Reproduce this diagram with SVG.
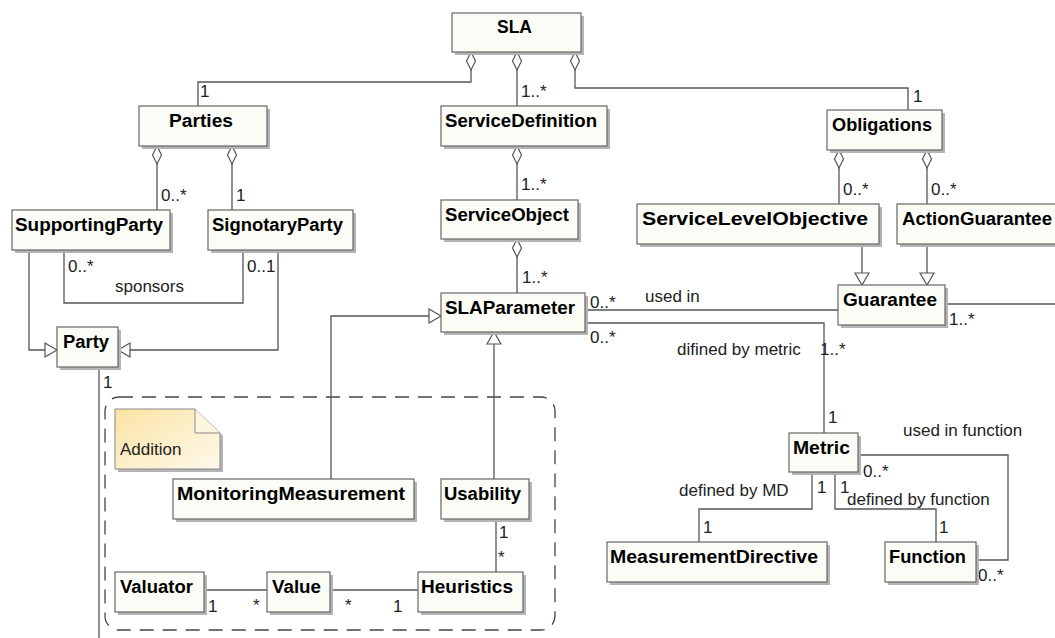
<svg xmlns="http://www.w3.org/2000/svg" width="1055" height="638" viewBox="0 0 1055 638">
<style>
.box{fill:#fcfcf7;stroke:#666;stroke-width:1.2}
.sh{fill:#b4b4b4}
.name{font-family:"Liberation Sans",Arial,sans-serif;font-weight:bold;font-size:18px;fill:#000;text-anchor:middle}
.lbl{font-family:"Liberation Sans",Arial,sans-serif;font-size:17px;fill:#222}
.ln{fill:none;stroke:#555;stroke-width:1.3}
.agg{marker-start:url(#dia)}
.gen{marker-end:url(#tri)}
</style>
<defs>
<marker id="dia" markerUnits="userSpaceOnUse" orient="auto" refX="0" refY="0" markerWidth="20" markerHeight="10" style="overflow:visible">
<path d="M0,0 L9,-4.5 L18,0 L9,4.5 Z" fill="#fff" stroke="#555" stroke-width="1.2"/>
</marker>
<marker id="tri" markerUnits="userSpaceOnUse" orient="auto" refX="0" refY="0" markerWidth="14" markerHeight="14" style="overflow:visible">
<path d="M-12,-7 L0,0 L-12,7 Z" fill="#fff" stroke="#555" stroke-width="1.2"/>
</marker>
<linearGradient id="noteg" x1="0" y1="0" x2="1" y2="1">
<stop offset="0" stop-color="#fbe3a3"/>
<stop offset="1" stop-color="#fdf9ec"/>
</linearGradient>
</defs>
<rect width="1055" height="638" fill="#fff"/>

<g id="frame">
<rect x="105" y="397" width="450" height="233" rx="14" fill="none" stroke="#444" stroke-width="1.3" stroke-dasharray="14 9"/>
</g>

<g id="connectors">
<path class="ln agg" d="M471,52 V82 H198 V106"/>
<path class="ln agg" d="M517,52 V106"/>
<path class="ln agg" d="M575,52 V88 H908 V110"/>
<path class="ln agg" d="M157,146 V210"/>
<path class="ln agg" d="M232,146 V210"/>
<path class="ln agg" d="M517,146 V200"/>
<path class="ln agg" d="M517,239 V293"/>
<path class="ln agg" d="M839,150 V204"/>
<path class="ln agg" d="M927,150 V204"/>
<path class="ln gen" d="M862,244 V285"/>
<path class="ln gen" d="M927,244 V285"/>
<path class="ln" d="M64,250 V303 H243 V250"/>
<path class="ln gen" d="M29,250 V350 H57"/>
<path class="ln gen" d="M278,250 V350 H118"/>
<path class="ln" d="M99,367 V638"/>
<path class="ln gen" d="M331,479 V316 H441"/>
<path class="ln gen" d="M494,479 V332"/>
<path class="ln" d="M585,310 H838"/>
<path class="ln" d="M945,304 H1055"/>
<path class="ln" d="M585,323 H824 V433"/>
<path class="ln" d="M858,455 H1008 V560 H976"/>
<path class="ln" d="M812,472 V509 H699 V542"/>
<path class="ln" d="M835,472 V509 H936 V542"/>
<path class="ln" d="M496,519 V572"/>
<path class="ln" d="M330,590 H418"/>
<path class="ln" d="M204,590 H267"/>
</g>

<g id="labels">
<text class="lbl" x="200" y="97">1</text>
<text class="lbl" x="521" y="97">1..*</text>
<text class="lbl" x="913" y="102">1</text>
<text class="lbl" x="161" y="201">0..*</text>
<text class="lbl" x="236" y="201">1</text>
<text class="lbl" x="521" y="190">1..*</text>
<text class="lbl" x="843" y="195">0..*</text>
<text class="lbl" x="931" y="195">0..*</text>
<text class="lbl" x="68" y="272">0..*</text>
<text class="lbl" x="247" y="272">0..1</text>
<text class="lbl" x="115" y="292">sponsors</text>
<text class="lbl" x="103" y="388">1</text>
<text class="lbl" x="522" y="283">1..*</text>
<text class="lbl" x="590" y="308">0..*</text>
<text class="lbl" x="645" y="302">used in</text>
<text class="lbl" x="590" y="343">0..*</text>
<text class="lbl" x="677" y="355">difined by metric</text>
<text class="lbl" x="820" y="355">1..*</text>
<text class="lbl" x="949" y="325">1..*</text>
<text class="lbl" x="828" y="423">1</text>
<text class="lbl" x="903" y="436">used in function</text>
<text class="lbl" x="863" y="477">0..*</text>
<text class="lbl" x="679" y="496">defined by MD</text>
<text class="lbl" x="817" y="493">1</text>
<text class="lbl" x="840" y="493">1</text>
<text class="lbl" x="847" y="505">defined by function</text>
<text class="lbl" x="703" y="533">1</text>
<text class="lbl" x="939" y="533">1</text>
<text class="lbl" x="978" y="581">0..*</text>
<text class="lbl" x="499" y="538">1</text>
<text class="lbl" x="498" y="563">*</text>
<text class="lbl" x="345" y="611">*</text>
<text class="lbl" x="393" y="612">1</text>
<text class="lbl" x="208" y="612">1</text>
<text class="lbl" x="253" y="611">*</text>
</g>

<g id="note-addition">
<polygon class="sh" points="118,412 198,412 223,436 223,472 118,472"/>
<polygon points="115,409 195,409 220,433 220,469 115,469" fill="url(#noteg)" stroke="#888" stroke-width="1"/>
<polyline points="195,409 195,433 220,433" fill="#fdf6df" stroke="#888" stroke-width="1"/>
<text class="lbl" x="120" y="455" fill="#333">Addition</text>
</g>

<g id="SLA"><rect class="sh" x="455" y="16" width="129" height="39"/><rect class="box" x="452" y="13" width="129" height="39"/><text class="name" x="514.5" y="33" textLength="35" lengthAdjust="spacingAndGlyphs">SLA</text></g>
<g id="Parties"><rect class="sh" x="142" y="109" width="128" height="40"/><rect class="box" x="139" y="106" width="128" height="40"/><text class="name" x="201" y="127" textLength="64" lengthAdjust="spacingAndGlyphs">Parties</text></g>
<g id="ServiceDefinition"><rect class="sh" x="444" y="109" width="166" height="40"/><rect class="box" x="441" y="106" width="166" height="40"/><text class="name" x="521" y="127" textLength="152" lengthAdjust="spacingAndGlyphs">ServiceDefinition</text></g>
<g id="Obligations"><rect class="sh" x="830" y="113" width="115" height="40"/><rect class="box" x="827" y="110" width="115" height="40"/><text class="name" x="882" y="131" textLength="100" lengthAdjust="spacingAndGlyphs">Obligations</text></g>
<g id="SupportingParty"><rect class="sh" x="15" y="213" width="158" height="40"/><rect class="box" x="12" y="210" width="158" height="40"/><text class="name" x="89" y="231" textLength="148" lengthAdjust="spacingAndGlyphs">SupportingParty</text></g>
<g id="SignotaryParty"><rect class="sh" x="211" y="213" width="145" height="40"/><rect class="box" x="208" y="210" width="145" height="40"/><text class="name" x="277.5" y="231" textLength="131" lengthAdjust="spacingAndGlyphs">SignotaryParty</text></g>
<g id="ServiceObject"><rect class="sh" x="444" y="203" width="137" height="39"/><rect class="box" x="441" y="200" width="137" height="39"/><text class="name" x="507" y="221" textLength="124" lengthAdjust="spacingAndGlyphs">ServiceObject</text></g>
<g id="ServiceLevelObjective"><rect class="sh" x="640" y="207" width="242" height="40"/><rect class="box" x="637" y="204" width="242" height="40"/><text class="name" x="755" y="225" textLength="226" lengthAdjust="spacingAndGlyphs">ServiceLevelObjective</text></g>
<g id="ActionGuarantee"><rect class="sh" x="900" y="207" width="170" height="40"/><rect class="box" x="897" y="204" width="170" height="40"/><text class="name" x="977" y="225" textLength="150" lengthAdjust="spacingAndGlyphs">ActionGuarantee</text></g>
<g id="Party"><rect class="sh" x="60" y="330" width="61" height="40"/><rect class="box" x="57" y="327" width="61" height="40"/><text class="name" x="86" y="348" textLength="46" lengthAdjust="spacingAndGlyphs">Party</text></g>
<g id="SLAParameter"><rect class="sh" x="444" y="296" width="144" height="39"/><rect class="box" x="441" y="293" width="144" height="39"/><text class="name" x="510" y="314" textLength="130" lengthAdjust="spacingAndGlyphs">SLAParameter</text></g>
<g id="Guarantee"><rect class="sh" x="841" y="288" width="107" height="40"/><rect class="box" x="838" y="285" width="107" height="40"/><text class="name" x="890" y="306" textLength="94" lengthAdjust="spacingAndGlyphs">Guarantee</text></g>
<g id="Metric"><rect class="sh" x="792" y="436" width="69" height="39"/><rect class="box" x="789" y="433" width="69" height="39"/><text class="name" x="821.5" y="454" textLength="57" lengthAdjust="spacingAndGlyphs">Metric</text></g>
<g id="MonitoringMeasurement"><rect class="sh" x="176" y="482" width="241" height="40"/><rect class="box" x="173" y="479" width="241" height="40"/><text class="name" x="291" y="500" textLength="228" lengthAdjust="spacingAndGlyphs">MonitoringMeasurement</text></g>
<g id="Usability"><rect class="sh" x="444" y="482" width="88" height="40"/><rect class="box" x="441" y="479" width="88" height="40"/><text class="name" x="482.5" y="500" textLength="77" lengthAdjust="spacingAndGlyphs">Usability</text></g>
<g id="MeasurementDirective"><rect class="sh" x="610" y="545" width="220" height="40"/><rect class="box" x="607" y="542" width="220" height="40"/><text class="name" x="714" y="563" textLength="208" lengthAdjust="spacingAndGlyphs">MeasurementDirective</text></g>
<g id="Function"><rect class="sh" x="888" y="545" width="91" height="40"/><rect class="box" x="885" y="542" width="91" height="40"/><text class="name" x="927.5" y="563" textLength="77" lengthAdjust="spacingAndGlyphs">Function</text></g>
<g id="Heuristics"><rect class="sh" x="421" y="575" width="105" height="40"/><rect class="box" x="418" y="572" width="105" height="40"/><text class="name" x="467" y="593" textLength="92" lengthAdjust="spacingAndGlyphs">Heuristics</text></g>
<g id="Value"><rect class="sh" x="270" y="575" width="63" height="40"/><rect class="box" x="267" y="572" width="63" height="40"/><text class="name" x="296.5" y="593" textLength="49" lengthAdjust="spacingAndGlyphs">Value</text></g>
<g id="Valuator"><rect class="sh" x="118" y="575" width="89" height="40"/><rect class="box" x="115" y="572" width="89" height="40"/><text class="name" x="156.5" y="593" textLength="73" lengthAdjust="spacingAndGlyphs">Valuator</text></g>
</svg>
